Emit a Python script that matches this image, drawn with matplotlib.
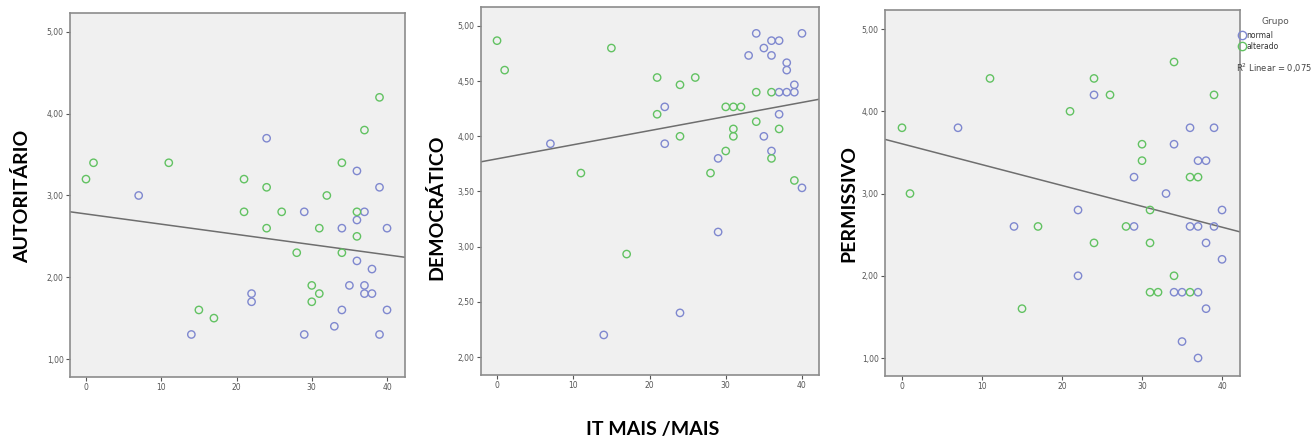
import matplotlib
matplotlib.use("Agg")
import matplotlib.pyplot as plt
from matplotlib.lines import Line2D
import numpy as np

# AUTORITÁRIO panel
aut_normal_x = [7, 14, 22, 22, 24, 29, 29, 33, 34, 34, 35, 36, 36, 36, 37, 37, 37, 38, 38, 39, 39, 40, 40]
aut_normal_y = [3.0, 1.3, 1.8, 1.7, 3.7, 2.8, 1.3, 1.4, 2.6, 1.6, 1.9, 3.3, 2.7, 2.2, 2.8, 1.9, 1.8, 2.1, 1.8, 3.1, 1.3, 2.6, 1.6]
aut_alt_x = [0, 1, 11, 15, 17, 21, 21, 24, 24, 26, 28, 30, 30, 31, 31, 32, 34, 34, 36, 36, 37, 39]
aut_alt_y = [3.2, 3.4, 3.4, 1.6, 1.5, 3.2, 2.8, 3.1, 2.6, 2.8, 2.3, 1.9, 1.7, 1.8, 2.6, 3.0, 3.4, 2.3, 2.8, 2.5, 3.8, 4.2]
aut_fit = (2.774, -0.0125)  # intercept, slope

# DEMOCRÁTICO panel
dem_normal_x = [7, 14, 22, 22, 24, 29, 29, 33, 34, 35, 35, 36, 36, 36, 37, 37, 37, 38, 38, 38, 39, 39, 40, 40]
dem_normal_y = [3.933, 2.2, 4.267, 3.933, 2.4, 3.8, 3.133, 4.733, 4.933, 4.8, 4.0, 4.867, 4.733, 3.867,
                4.867, 4.4, 4.2, 4.667, 4.6, 4.4, 4.467, 4.4, 4.933, 3.533]
dem_alt_x = [0, 1, 11, 15, 17, 21, 21, 24, 24, 26, 28, 30, 30, 31, 31, 31, 32, 34, 34, 36, 36, 37, 39]
dem_alt_y = [4.867, 4.6, 3.667, 4.8, 2.933, 4.533, 4.2, 4.467, 4.0, 4.533, 3.667, 4.267, 3.867, 4.267,
             4.067, 4.0, 4.267, 4.4, 4.133, 4.4, 3.8, 4.067, 3.6]
dem_fit = (3.796, 0.01278)

# PERMISSIVO panel
per_normal_x = [7, 14, 22, 22, 24, 29, 29, 33, 34, 34, 35, 35, 36, 36, 37, 37, 37, 37, 38, 38, 38, 39, 39, 40, 40]
per_normal_y = [3.8, 2.6, 2.8, 2.0, 4.2, 3.2, 2.6, 3.0, 3.6, 1.8, 1.8, 1.2, 3.8, 2.6, 3.4, 2.6, 1.8, 1.0,
                3.4, 2.4, 1.6, 3.8, 2.6, 2.8, 2.2]
per_alt_x = [0, 1, 11, 15, 17, 21, 24, 24, 26, 28, 30, 30, 31, 31, 31, 32, 34, 34, 36, 36, 37, 39]
per_alt_y = [3.8, 3.0, 4.4, 1.6, 2.6, 4.0, 4.4, 2.4, 4.2, 2.6, 3.6, 3.4, 2.8, 2.4, 1.8, 1.8, 4.6, 2.0,
             3.2, 1.8, 3.2, 4.2]
per_fit = (3.605, -0.02535)

x_ticks = [0, 10, 20, 30, 40]
group_labels = ["normal", "alterado"]
r2_text = "R$^2$ Linear = 0,075"

blue = "#7f88cf"
green = "#62c262"

fig = plt.figure(figsize=(13.15, 4.43), dpi=100)

panels = [
    dict(rect=[0.0532, 0.149, 0.2548, 0.8217], xlim=(-2.13, 42.39), ylim=(0.78, 5.232),
         yticks=[1, 2, 3, 4, 5], nx=aut_normal_x, ny=aut_normal_y, ax_=aut_alt_x, ay=aut_alt_y,
         fit=aut_fit, label="AUTORITÁRIO", lx=22, ly=196),
    dict(rect=[0.3658, 0.1535, 0.257, 0.8307], xlim=(-2.1, 42.23), ylim=(1.837, 5.172),
         yticks=[2, 2.5, 3, 3.5, 4, 4.5, 5], nx=dem_normal_x, ny=dem_normal_y, ax_=dem_alt_x, ay=dem_alt_y,
         fit=dem_fit, label="DEMOCRÁTICO", lx=436, ly=207),
    dict(rect=[0.673, 0.1512, 0.270, 0.826], xlim=(-2.125, 42.25), ylim=(0.781, 5.231),
         yticks=[1, 2, 3, 4, 5], nx=per_normal_x, ny=per_normal_y, ax_=per_alt_x, ay=per_alt_y,
         fit=per_fit, label="PERMISSIVO", lx=849, ly=203),
]

for p in panels:
    ax = fig.add_axes(p["rect"])
    ax.set_facecolor("#f0f0f0")
    ax.scatter(p["nx"], p["ny"], s=28, facecolors="none", edgecolors=blue, linewidths=1.0, zorder=3)
    ax.scatter(p["ax_"], p["ay"], s=28, facecolors="none", edgecolors=green, linewidths=1.0, zorder=3)
    b0, b1 = p["fit"]
    xs = np.array(p["xlim"])
    ax.plot(xs, b0 + b1 * xs, color="#6e6e6e", lw=1.1, zorder=2)
    ax.set_xlim(*p["xlim"])
    ax.set_ylim(*p["ylim"])
    ax.set_xticks(x_ticks)
    ax.set_yticks(p["yticks"])
    ax.set_yticklabels([f"{v:.2f}".replace(".", ",") for v in p["yticks"]])
    ax.tick_params(labelsize=5.5, colors="#555555", length=3, width=0.8, pad=1.5)
    for s in ax.spines.values():
        s.set_color("#8c8c8c")
        s.set_linewidth(1.2)
    fig.text(p["lx"] / 1315, 1 - p["ly"] / 443, p["label"], rotation=90, ha="center", va="center",
             fontsize=14, fontweight="bold", family="Lato", color="black")

# legend for the last panel
handles = [Line2D([], [], marker="o", ls="none", mfc="none", mec=blue, ms=6, mew=1),
           Line2D([], [], marker="o", ls="none", mfc="none", mec=green, ms=6, mew=1)]
leg = fig.legend(handles, group_labels, loc="upper left", bbox_to_anchor=(1238 / 1315, 1 - 31 / 443),
                 frameon=False, fontsize=5.5, handletextpad=0.1, borderaxespad=0, borderpad=0,
                 labelspacing=0.2, handlelength=1.0)
for t in leg.get_texts():
    t.set_color("#333333")
fig.text(1262 / 1315, 1 - 22 / 443, "Grupo", fontsize=6.5, color="#555555", ha="left", va="center")
fig.text(1236 / 1315, 1 - 68 / 443, r2_text, fontsize=6, color="#444444", ha="left", va="center")

fig.text(653 / 1315, 1 - 429 / 443, "IT MAIS /MAIS", ha="center", va="center",
         fontsize=14, fontweight="bold", family="Lato")

fig.savefig("out.png", dpi=100)
